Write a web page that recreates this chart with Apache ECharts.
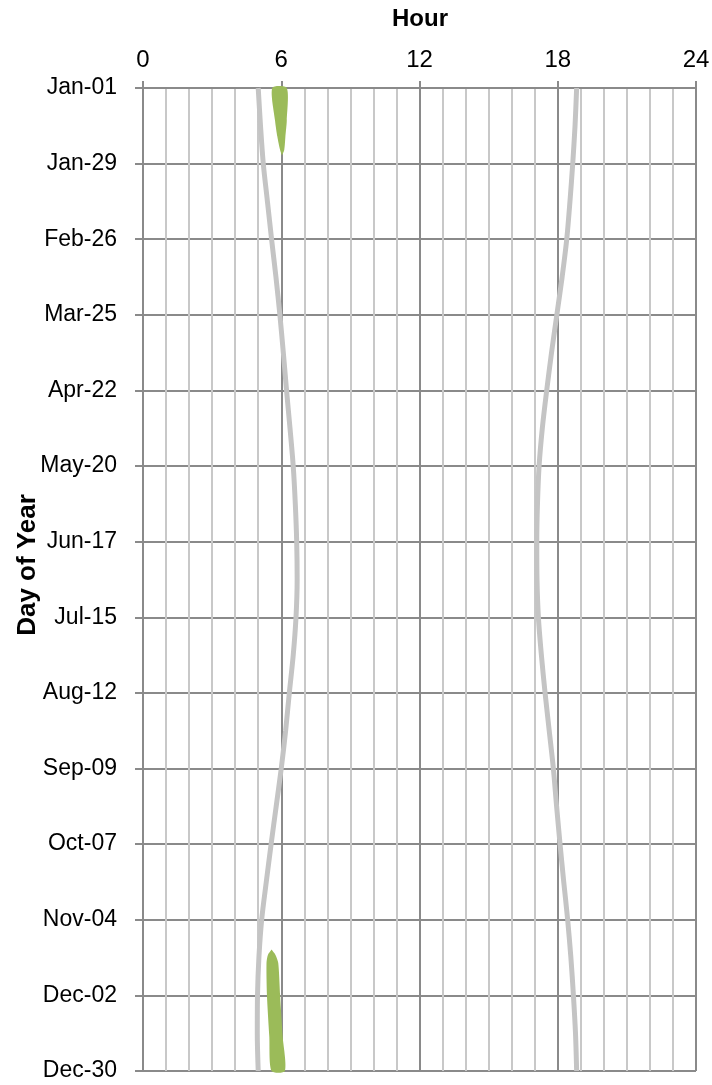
<!DOCTYPE html>
<html><head><meta charset="utf-8">
<script src="https://cdn.jsdelivr.net/npm/echarts@6/dist/echarts.min.js"></script>
<style>html,body{margin:0;padding:0;background:#fff}#c{width:712px;height:1085px}</style>
</head><body><div id="c"></div>
<script>
// Tick labels
const dateLabels = ['Jan-01','Jan-29','Feb-26','Mar-25','Apr-22','May-20','Jun-17','Jul-15','Aug-12','Sep-09','Oct-07','Nov-04','Dec-02','Dec-30'];
const labelDays = [0,28,56,84,112,140,168,196,224,252,280,308,336,364];
const hourTicks = [0,6,12,18,24];
// Sunrise / sunset (hour), sampled every 14 days
const curveDays    = [0,14,28,42,56,70,84,98,112,126,140,154,168,182,196,210,224,238,252,266,280,294,308,322,336,350,364];
const sunriseHours = [5.00,5.10,5.22,5.40,5.58,5.77,5.94,6.09,6.23,6.38,6.52,6.61,6.67,6.69,6.64,6.52,6.35,6.19,6.00,5.78,5.56,5.35,5.15,5.03,4.97,4.96,5.00];
const sunsetHours  = [18.82,18.75,18.65,18.53,18.39,18.19,17.96,17.73,17.52,17.33,17.19,17.12,17.09,17.10,17.16,17.29,17.45,17.63,17.81,17.95,18.10,18.26,18.43,18.57,18.68,18.77,18.82];
// Green event bands (day of year, start hour, end hour)
const janGreenDays  = [0,12,18,23,25];
const janGreenStart = [5.61,5.73,5.83,5.95,6.03];
const janGreenEnd   = [6.24,6.24,6.18,6.13,6.03];
const decGreenDays  = [319,321,324,336,351,364];
const decGreenStart = [5.58,5.42,5.36,5.38,5.48,5.58];
const decGreenEnd   = [5.58,5.75,5.87,5.95,6.06,6.16];

const FONT = "'Liberation Sans',Arial,sans-serif";
const DARK = '#8a8a8a', LIGHT = '#c8c8c8';

const chart = echarts.init(document.getElementById('c'), null, {renderer:'canvas'});
const bands = [
  {days: janGreenDays, s: janGreenStart, e: janGreenEnd},
  {days: decGreenDays, s: decGreenStart, e: decGreenEnd}
];
function renderBand(params, api) {
  const b = bands[api.value(0)];
  const pts = [];
  for (let i = 0; i < b.days.length; i++) pts.push(api.coord([b.s[i], b.days[i]]));
  for (let i = b.days.length - 1; i >= 0; i--) pts.push(api.coord([b.e[i], b.days[i]]));
  return {type:'polygon', shape:{points:pts, smooth:0.25}, style:{fill:'#9bbb59'}};
}

chart.setOption({
  animation:false,
  grid:{left:143, right:16, top:88, bottom:14, containLabel:false, outerBoundsMode:'none'},
  graphic:[
    {type:'text', x:28, y:565, rotation:Math.PI/2,
     style:{text:'Day of Year', font:"bold 26px 'Liberation Sans',Arial,sans-serif", fill:'#000', align:'center', verticalAlign:'middle'}},
    {type:'text', x:420, y:19,
     style:{text:'Hour', font:"bold 24px 'Liberation Sans',Arial,sans-serif", fill:'#000', align:'center', verticalAlign:'middle'}}
  ],
  xAxis:[
    {type:'value', position:'top', min:0, max:24, interval:1,
     axisLine:{show:false}, axisTick:{show:false}, axisLabel:{show:false},
     splitLine:{show:true, lineStyle:{color:LIGHT, width:2}}},
    {type:'value', position:'top', min:0, max:24, interval:6,
     axisLine:{show:true, lineStyle:{color:DARK, width:2}},
     axisTick:{show:true, length:7, lineStyle:{color:DARK, width:2}},
     axisLabel:{fontFamily:FONT, fontSize:24, color:'#000', margin:16,
       formatter: v => hourTicks.indexOf(v) >= 0 ? String(v) : ''},
     splitLine:{show:true, lineStyle:{color:DARK, width:2}}}
  ],
  yAxis:{type:'value', inverse:true, min:0, max:364, interval:28,
     axisLine:{show:true, lineStyle:{color:DARK, width:2}},
     axisTick:{show:true, length:8, lineStyle:{color:DARK, width:2}},
     axisLabel:{fontFamily:FONT, fontSize:23, color:'#000', margin:26,
       formatter: v => { const i = labelDays.indexOf(v); return i >= 0 ? dateLabels[i] : ''; }},
     splitLine:{show:true, lineStyle:{color:DARK, width:2}}},
  series:[
    {type:'line', xAxisIndex:1, smooth:0.3, symbol:'none',
     lineStyle:{color:'#c4c4c4', width:5},
     data: curveDays.map((d,i) => [sunriseHours[i], d])},
    {type:'line', xAxisIndex:1, smooth:0.3, symbol:'none',
     lineStyle:{color:'#c4c4c4', width:5},
     data: curveDays.map((d,i) => [sunsetHours[i], d])},
    {type:'custom', xAxisIndex:1, renderItem:renderBand, data:[[0],[1]], z:5}
  ]
});
</script></body></html>
